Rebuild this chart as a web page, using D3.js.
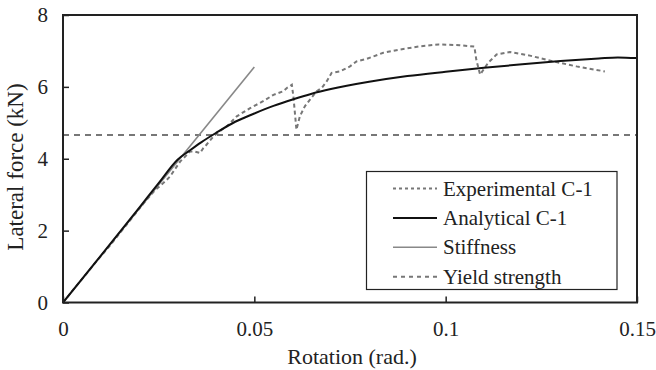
<!DOCTYPE html>
<html>
<head>
<meta charset="utf-8">
<script src="https://cdn.jsdelivr.net/npm/d3@7"></script>
<style>
  body { margin: 0; background: #fff; }
  svg text { font-family: "Liberation Serif", "Times New Roman", "DejaVu Serif", serif; fill: #222; }
</style>
</head>
<body>
<svg width="656" height="370"></svg>
<script>
// data
const expRot = [0, 0.003, 0.006, 0.009, 0.012, 0.015, 0.018, 0.021, 0.024, 0.027, 0.028, 0.0306, 0.0332, 0.0345, 0.0358, 0.0367, 0.0375, 0.0393, 0.0415, 0.0428, 0.0454, 0.0489, 0.0523, 0.055, 0.0576, 0.0585, 0.0598, 0.0602, 0.061, 0.0619, 0.0632, 0.0645, 0.0663, 0.0676, 0.0689, 0.0702, 0.0724, 0.075, 0.0767, 0.0794, 0.0837, 0.0881, 0.0933, 0.0981, 0.1037, 0.1075, 0.108, 0.109, 0.1111, 0.1133, 0.1168, 0.122, 0.1281, 0.1342, 0.1416];
const expForce = [0, 0.40, 0.78, 1.18, 1.55, 1.95, 2.35, 2.75, 3.12, 3.40, 3.51, 3.92, 4.20, 4.20, 4.16, 4.30, 4.39, 4.62, 4.81, 4.90, 5.18, 5.41, 5.60, 5.78, 5.88, 5.97, 6.06, 5.74, 4.81, 5.18, 5.46, 5.64, 5.88, 5.97, 6.15, 6.39, 6.43, 6.57, 6.71, 6.78, 6.95, 7.04, 7.13, 7.18, 7.16, 7.12, 6.76, 6.34, 6.67, 6.90, 6.97, 6.87, 6.71, 6.57, 6.43];

const anaRot = [0, 0.01, 0.02, 0.025, 0.03, 0.033, 0.036, 0.04, 0.045, 0.05, 0.055, 0.06, 0.065, 0.07, 0.08, 0.09, 0.1, 0.11, 0.12, 0.13, 0.14, 0.145, 0.15];
const anaForce = [0, 1.32, 2.65, 3.32, 3.98, 4.22, 4.45, 4.72, 5.03, 5.26, 5.47, 5.65, 5.81, 5.94, 6.14, 6.30, 6.42, 6.53, 6.63, 6.72, 6.79, 6.82, 6.80];

const stiffRot = [0, 0.05];
const stiffForce = [0, 6.55];

const yieldForce = 4.66;

const xTicks = [0, 0.05, 0.1, 0.15];
const xTickLabels = ["0", "0.05", "0.1", "0.15"];
const yTicks = [0, 2, 4, 6, 8];

const legendNames = ["Experimental C-1", "Analytical C-1", "Stiffness", "Yield strength"];

const plotLeft = 63, plotRight = 637, plotTop = 15, plotBottom = 302.5;
const serif = "'Liberation Serif', 'Times New Roman', 'DejaVu Serif', serif";

const svg = d3.select("svg");

const x = d3.scaleLinear().domain([0, 0.15]).range([plotLeft, plotRight]);
const y = d3.scaleLinear().domain([0, 8]).range([plotBottom, plotTop]);

const line = d3.line()
  .x(d => x(d[0]))
  .y(d => y(d[1]));

// yield strength
svg.append("line")
  .attr("x1", x(0)).attr("x2", x(0.15))
  .attr("y1", y(yieldForce)).attr("y2", y(yieldForce))
  .attr("stroke", "#777").attr("stroke-width", 2)
  .attr("stroke-dasharray", "6,5");

// stiffness
svg.append("path")
  .datum(stiffRot.map((r, i) => [r, stiffForce[i]]))
  .attr("d", line)
  .attr("fill", "none").attr("stroke", "#888").attr("stroke-width", 1.6);

// experimental
svg.append("path")
  .datum(expRot.map((r, i) => [r, expForce[i]]))
  .attr("d", line)
  .attr("fill", "none").attr("stroke", "#777").attr("stroke-width", 2)
  .attr("stroke-dasharray", "4,3");

// analytical
svg.append("path")
  .datum(anaRot.map((r, i) => [r, anaForce[i]]))
  .attr("d", line.curve(d3.curveMonotoneX))
  .attr("fill", "none").attr("stroke", "#111").attr("stroke-width", 2);

// axes
const xAxis = d3.axisBottom(x)
  .tickValues(xTicks)
  .tickFormat((d, i) => xTickLabels[i])
  .tickSize(-6)
  .tickPadding(19);

const yAxis = d3.axisLeft(y)
  .tickValues(yTicks)
  .tickSize(-6)
  .tickPadding(15);

const gx = svg.append("g")
  .attr("transform", "translate(0," + plotBottom + ")")
  .call(xAxis);

const gy = svg.append("g")
  .attr("transform", "translate(" + plotLeft + ",0)")
  .call(yAxis);

[gx, gy].forEach(g => {
  g.attr("font-family", serif).attr("font-size", 21);
  g.select(".domain").remove();
  g.selectAll(".tick line").attr("stroke", "#222").attr("stroke-width", 1.5);
  g.selectAll(".tick text").attr("fill", "#222");
});

// frame
svg.append("rect")
  .attr("x", plotLeft).attr("y", plotTop)
  .attr("width", plotRight - plotLeft).attr("height", plotBottom - plotTop)
  .attr("fill", "none").attr("stroke", "#222").attr("stroke-width", 2);

// axis titles
svg.append("text")
  .attr("x", 352)
  .attr("y", 364)
  .attr("text-anchor", "middle")
  .attr("font-family", serif)
  .attr("font-size", 22)
  .text("Rotation (rad.)");

svg.append("text")
  .attr("transform", "translate(23,167) rotate(-90)")
  .attr("text-anchor", "middle")
  .attr("font-family", serif)
  .attr("font-size", 23)
  .text("Lateral force (kN)");

// legend
const legend = svg.append("g").attr("font-family", serif).attr("font-size", 21);
legend.append("rect")
  .attr("x", 366.5).attr("y", 171.5)
  .attr("width", 250.5).attr("height", 118)
  .attr("fill", "#fff").attr("stroke", "#222").attr("stroke-width", 1.2);

const legendStyles = [
  { stroke: "#777", width: 2, dash: "3,3" },
  { stroke: "#111", width: 2, dash: null },
  { stroke: "#888", width: 1.6, dash: null },
  { stroke: "#777", width: 2, dash: "4,4" }
];

legendNames.forEach((name, i) => {
  const cy = 188.5 + i * 29.4;
  legend.append("line")
    .attr("x1", 393).attr("x2", 437)
    .attr("y1", cy).attr("y2", cy)
    .attr("stroke", legendStyles[i].stroke)
    .attr("stroke-width", legendStyles[i].width)
    .attr("stroke-dasharray", legendStyles[i].dash);
  legend.append("text")
    .attr("x", 443)
    .attr("y", cy + 7)
    .text(name);
});
</script>
</body>
</html>
